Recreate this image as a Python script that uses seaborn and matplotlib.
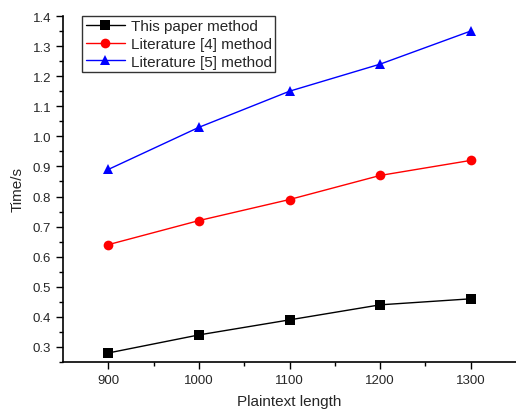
import pandas as pd
import seaborn as sns
from matplotlib import pyplot as plt

sns.set_style("ticks")
plt.rcParams['font.family'] = ['Liberation Sans', 'DejaVu Sans']

lengths = [900, 1000, 1100, 1200, 1300]
this_paper = [0.28, 0.34, 0.39, 0.44, 0.46]
lit4 = [0.64, 0.72, 0.79, 0.87, 0.92]
lit5 = [0.89, 1.03, 1.15, 1.24, 1.35]
methods = ["This paper method", "Literature [4] method", "Literature [5] method"]

df = pd.DataFrame({
  "length": lengths * 3,
  "time": this_paper + lit4 + lit5,
  "method": [m for m in methods for _ in lengths],
})

fig = plt.figure(figsize=(5.16, 4.1), dpi=100)
ax = fig.add_axes([63/516, 1 - 363/410, 1 - 63/516, (363 - 17)/410])

sns.lineplot(data=df, x="length", y="time", hue="method", style="method",
             palette=["black", "red", "blue"], markers=["s", "o", "^"],
             dashes=False, markersize=7, markeredgewidth=0, linewidth=1,
             ax=ax)

ax.set_xlim(850, 1350)
ax.set_ylim(0.25, 1.4)
ax.set_xticks(lengths)
ax.set_xticks([950, 1050, 1150, 1250], minor=True)
ax.set_yticks([0.3 + 0.1*i for i in range(12)])
ax.set_yticks([0.25 + 0.1*i for i in range(12)], minor=True)
ax.yaxis.set_major_formatter(plt.FormatStrFormatter("%.1f"))
ax.tick_params(which="major", length=5, width=1, labelsize=9.5, color="black")
ax.tick_params(which="minor", length=3, width=1, color="black")
for s in ["left", "bottom"]:
  ax.spines[s].set_color("black")
  ax.spines[s].set_linewidth(1.2)
sns.despine(ax=ax)

ax.set_xlabel("Plaintext length", fontsize=11, labelpad=6)
ax.set_ylabel("Time/s", fontsize=11, labelpad=6)

leg = ax.legend(loc="upper left", bbox_to_anchor=(0.043, 1.0), fontsize=11,
                frameon=True, fancybox=False, edgecolor="black",
                borderpad=0.2, labelspacing=0.25, handlelength=2.6,
                handletextpad=0.4, borderaxespad=0)
leg.get_frame().set_linewidth(1)

fig.savefig("out.png", dpi=100)
